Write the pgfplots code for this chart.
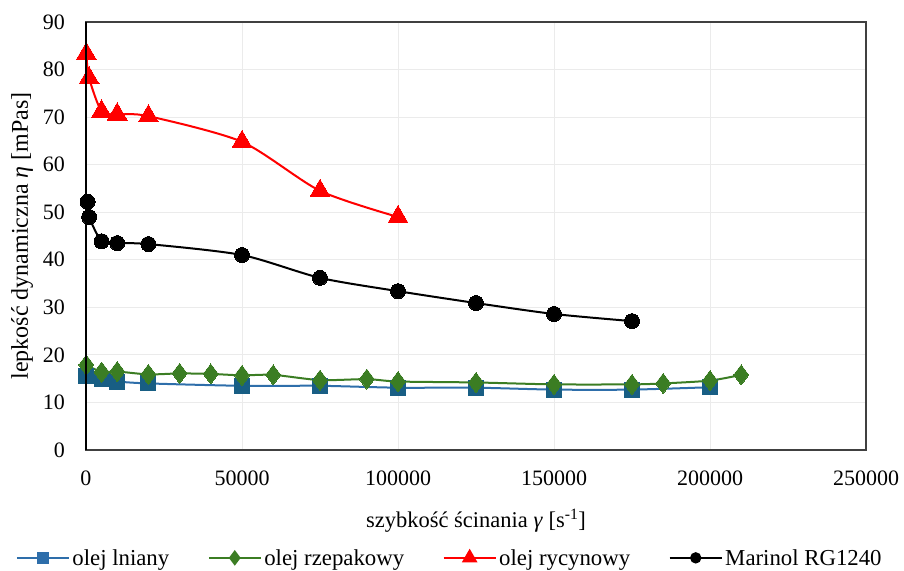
\documentclass[border=0pt]{standalone}
\usepackage{fontspec}
\setmainfont{Liberation Serif}
\usepackage{pgfplots}
\pgfplotsset{compat=1.18}
\definecolor{lnline}{RGB}{46,110,170}
\definecolor{lnmark}{RGB}{24,94,132}
\definecolor{rzgreen}{RGB}{59,125,35}
\definecolor{gridc}{RGB}{235,235,235}
\definecolor{boxc}{RGB}{64,64,64}
\begin{document}
\begin{tikzpicture}
\begin{axis}[
  at={(0,0)}, anchor=south west,
  scale only axis,
  width=780pt, height=428pt,
  xmin=0, xmax=250000, ymin=0, ymax=90,
  xtick={0,50000,100000,150000,200000,250000},
  ytick={0,10,...,90},
  scaled x ticks=false,
  /pgf/number format/fixed,
  /pgf/number format/precision=0,
  /pgf/number format/1000 sep={},
  /pgf/number format/assume math mode=true,
  tick style={draw=none},
  major tick length=0pt,
  grid=major,
  major grid style={draw=gridc, line width=1pt},
  axis line style={draw=boxc, line width=1.3pt},
  font=\fontsize{22.5}{26}\selectfont,
  tick label style={font=\fontsize{22}{26}\selectfont, inner sep=0pt},
  xticklabel style={anchor=center, yshift=-28pt},
  yticklabel style={anchor=east, xshift=-21pt},
  xlabel={szybkość ścinania \textit{γ} [s\textsuperscript{-1}]},
  ylabel={lepkość dynamiczna \textit{η} [mPas]},
  xlabel style={at={(axis description cs:0.5,-0.165)}, anchor=center, inner sep=0pt, font=\fontsize{22.5}{26}\selectfont},
  ylabel style={at={(axis description cs:-0.082,0.5)}, anchor=center, inner sep=0pt, font=\fontsize{24}{28}\selectfont},
  legend columns=4,
  legend style={draw=none, fill=none, at={(axis description cs:0.4667,-0.252)}, anchor=center,
    font=\fontsize{22.8}{26}\selectfont, inner sep=0pt,
    nodes={inner sep=2.5pt},
    /tikz/every even column/.append style={column sep=36pt}},
  legend image code/.code={
    \draw[#1, mark repeat=2, mark phase=2, mark options={scale=0.62}] plot coordinates {(0pt,0pt) (26pt,0pt) (52pt,0pt)};
  },
  every axis plot/.append style={line width=2pt, smooth, tension=0.45},
]
\addplot[color=lnline, mark=square*, mark size=7.5pt, mark options={fill=lnmark, draw=lnmark, line width=0pt}]
coordinates {(100,15.6)(5000,14.9)(10000,14.4)(20000,14.0)(50000,13.5)(75000,13.5)(100000,13.1)(125000,13.1)(150000,12.7)(175000,12.7)(200000,13.2)};
\addlegendentry{olej lniany}
\addplot[color=rzgreen, mark=diamond*, mark size=10pt, mark options={fill=rzgreen, draw=rzgreen, line width=0pt}]
coordinates {(100,17.9)(5000,16.4)(10000,16.5)(20000,15.9)(30000,16.1)(40000,16.0)(50000,15.7)(60000,15.8)(75000,14.7)(90000,14.9)(100000,14.4)(125000,14.2)(150000,13.8)(175000,13.8)(185000,14.0)(200000,14.6)(210000,15.8)};
\addlegendentry{olej rzepakowy}
\addplot[color=red, mark=triangle*, mark size=11.5pt, mark options={fill=red, draw=red, line width=0pt}]
coordinates {(100,83.3)(1000,78.2)(5000,71.2)(10000,70.6)(20000,70.2)(50000,64.8)(75000,54.5)(100000,49.0)};
\addlegendentry{olej rycynowy}
\addplot[color=black, mark=*, mark size=7.5pt, mark options={fill=black, draw=black, line width=0pt}]
coordinates {(500,52.2)(1000,49.0)(5000,43.9)(10000,43.5)(20000,43.3)(50000,41.0)(75000,36.2)(100000,33.4)(125000,30.9)(150000,28.6)(175000,27.1)};
\addlegendentry{Marinol RG1240}
\end{axis}
\draw[black, line width=2pt] (0pt,0pt) -- (0pt,428pt);
\pgfresetboundingbox
\path[use as bounding box] (-86pt,-120pt) rectangle (818pt,450pt);
\end{tikzpicture}
\end{document}
